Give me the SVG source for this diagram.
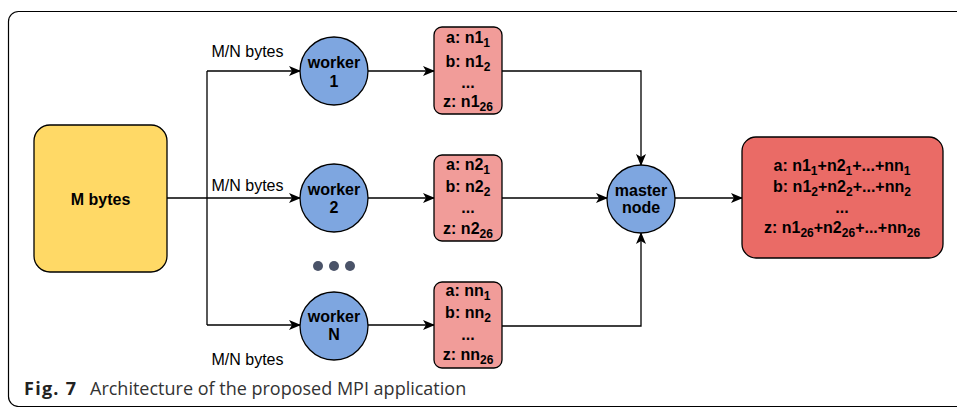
<svg xmlns="http://www.w3.org/2000/svg" width="957" height="407" viewBox="0 0 957 407">
<defs>
<marker id="arr" markerWidth="12" markerHeight="10" refX="11" refY="5" orient="auto" markerUnits="userSpaceOnUse">
<path d="M0,0 L12,5 L0,10 L3,5 Z" fill="#000"/>
</marker>
<style>
.b{font-family:"Liberation Sans",Arial,sans-serif;font-weight:bold;font-size:16px;fill:#000;text-anchor:middle}
.r{font-family:"Liberation Sans",Arial,sans-serif;font-size:16px;fill:#000;text-anchor:middle}
.s{font-size:12px}
.c{fill:#7EA6E0;stroke:#000;stroke-width:1.3}
.t{fill:#F19C99;stroke:#000;stroke-width:1.3}
.e{fill:none;stroke:#000;stroke-width:1.3}
</style>
</defs>
<rect width="957" height="407" fill="#fff"/>
<rect x="8.5" y="11.5" width="1000" height="395" rx="10" fill="none" stroke="#000" stroke-width="1.2"/>

<g id="connectors">
<path class="e" d="M167,198 H207 M207,71 V325"/>
<path class="e" d="M207,71 H300" marker-end="url(#arr)"/>
<path class="e" d="M207,198 H300" marker-end="url(#arr)"/>
<path class="e" d="M207,325 H300" marker-end="url(#arr)"/>
<path class="e" d="M368,71 H434" marker-end="url(#arr)"/>
<path class="e" d="M368,198 H434" marker-end="url(#arr)"/>
<path class="e" d="M368,325 H434" marker-end="url(#arr)"/>
<path class="e" d="M502,71 H641 V165" marker-end="url(#arr)"/>
<path class="e" d="M502,198 H607" marker-end="url(#arr)"/>
<path class="e" d="M502,326 H641 V233" marker-end="url(#arr)"/>
<path class="e" d="M675,198 H742" marker-end="url(#arr)"/>
<text class="r" x="247.5" y="57">M/N bytes</text>
<text class="r" x="247.5" y="191">M/N bytes</text>
<text class="r" x="247.5" y="365">M/N bytes</text>
</g>

<g id="mbytes">
<rect x="34" y="125" width="133" height="147" rx="16" fill="#FFD966" stroke="#000" stroke-width="1.3"/>
<text class="b" x="100.5" y="205">M bytes</text>
</g>

<g id="worker1">
<circle class="c" cx="334" cy="71" r="34"/>
<text class="b" x="334" y="68">worker</text>
<text class="b" x="334" y="87">1</text>
</g>
<g id="worker2">
<circle class="c" cx="334" cy="198" r="34"/>
<text class="b" x="334" y="195">worker</text>
<text class="b" x="334" y="213">2</text>
</g>
<g id="workerN">
<circle class="c" cx="334" cy="326" r="34"/>
<text class="b" x="334" y="322">worker</text>
<text class="b" x="334" y="340">N</text>
</g>

<g id="dots" fill="#4A5368">
<circle cx="318" cy="266" r="5"/>
<circle cx="334" cy="266" r="5"/>
<circle cx="350" cy="266" r="5"/>
</g>

<g id="table1">
<rect class="t" x="434" y="27" width="68" height="87" rx="8"/>
<text class="b" x="468" y="43">a: n1<tspan class="s" dy="4">1</tspan></text>
<text class="b" x="468" y="67">b: n1<tspan class="s" dy="4">2</tspan></text>
<text class="b" x="468" y="88">...</text>
<text class="b" x="468" y="107">z: n1<tspan class="s" dy="4">26</tspan></text>
</g>
<g id="table2">
<rect class="t" x="434" y="155" width="68" height="86" rx="8"/>
<text class="b" x="468" y="170">a: n2<tspan class="s" dy="4">1</tspan></text>
<text class="b" x="468" y="192">b: n2<tspan class="s" dy="4">2</tspan></text>
<text class="b" x="468" y="213">...</text>
<text class="b" x="468" y="234">z: n2<tspan class="s" dy="4">26</tspan></text>
</g>
<g id="tableN">
<rect class="t" x="434" y="282" width="68" height="86" rx="8"/>
<text class="b" x="468" y="296">a: nn<tspan class="s" dy="4">1</tspan></text>
<text class="b" x="468" y="318">b: nn<tspan class="s" dy="4">2</tspan></text>
<text class="b" x="468" y="340">...</text>
<text class="b" x="468" y="360">z: nn<tspan class="s" dy="4">26</tspan></text>
</g>

<g id="master">
<circle class="c" cx="641" cy="199" r="34"/>
<text class="b" x="641" y="196">master</text>
<text class="b" x="641" y="213">node</text>
</g>

<g id="result">
<rect x="742" y="137" width="201" height="121" rx="14" fill="#EA6B66" stroke="#000" stroke-width="1.3"/>
<text class="b" x="842" y="171">a: n1<tspan class="s" dy="4">1</tspan><tspan dy="-4">+n2</tspan><tspan class="s" dy="4">1</tspan><tspan dy="-4">+...+nn</tspan><tspan class="s" dy="4">1</tspan></text>
<text class="b" x="842" y="192">b: n1<tspan class="s" dy="4">2</tspan><tspan dy="-4">+n2</tspan><tspan class="s" dy="4">2</tspan><tspan dy="-4">+...+nn</tspan><tspan class="s" dy="4">2</tspan></text>
<text class="b" x="842" y="213">...</text>
<text class="b" x="842" y="233">z: n1<tspan class="s" dy="4">26</tspan><tspan dy="-4">+n2</tspan><tspan class="s" dy="4">26</tspan><tspan dy="-4">+...+nn</tspan><tspan class="s" dy="4">26</tspan></text>
</g>

<g id="caption" font-family="'Open Sans',sans-serif" font-size="18">
<text x="24" y="395" fill="#333"><tspan font-weight="bold" fill="#222" textLength="52" lengthAdjust="spacing">Fig. 7</tspan><tspan x="90">Architecture of the proposed MPI application</tspan></text>
</g>
</svg>
